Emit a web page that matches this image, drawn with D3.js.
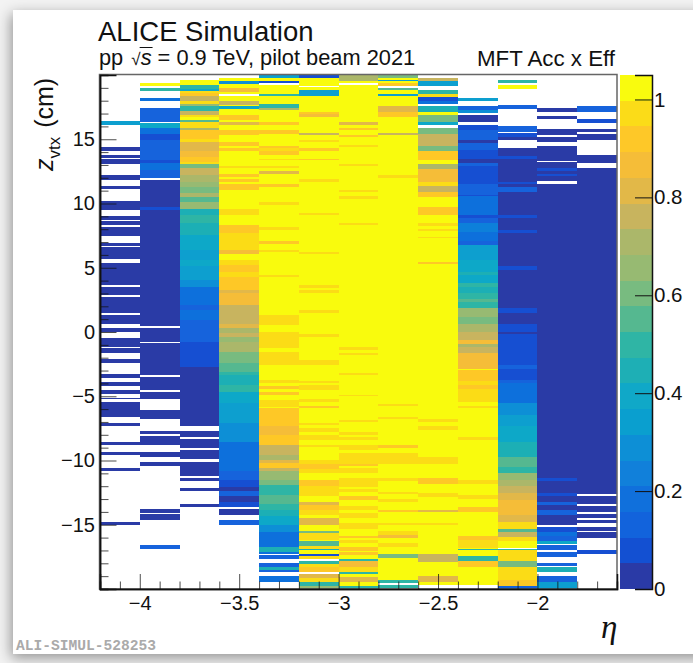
<!DOCTYPE html>
<html>
<head>
<meta charset="utf-8">
<script src="https://cdn.jsdelivr.net/npm/d3@7"></script>
<style>
  html, body { margin: 0; padding: 0; background: #f3f3f3; overflow: hidden; }
  svg { display: block; font-family: "Liberation Sans", Arial, sans-serif; }
</style>
</head>
<body>
<svg id="chart"></svg>
<script>
// each run is [zTop, zBottom, efficiency], later runs paint over earlier ones, E = empty bin
const E = null;
const col0 = [
  [16.4, 16.1, 0.34], [14.4, 14.1, 0.03], [13.8, 13.55, 0.03], [13.45, 13.1, 0.03], [12.2, 11.8, 0.03],
  [11.4, 11.1, 0.03], [10.2, 9.5, 0.03], [9, 8.7, 0.03], [8.6, 8.3, 0.03], [8.2, 7.5, 0.03],
  [6.95, 6.7, 0.03], [6.6, 5.7, 0.03], [5.35, 3.65, 0.03], [3.5, 2.9, 0.03], [2.75, 1.5, 0.03],
  [1.35, 0.65, 0.03], [0.35, 0, 0.03], [-0.45, -1.15, 0.03], [-1.25, -1.6, 0.03], [-2.1, -2.4, 0.03],
  [-3.25, -3.6, 0.03], [-3.9, -4.2, 0.03], [-4.5, -4.85, 0.03], [-5.1, -5.25, 0.03], [-5.45, -6.6, 0.03],
  [-7.1, -7.35, 0.03], [-8.55, -8.8, 0.03], [-9.3, -9.6, 0.03], [-10.55, -10.8, 0.03], [-14.75, -15.05, 0.03]
];
const col1 = [
  [19.4, 19.15, 1.02], [19, 18.75, 0.5], [18.2, 17.95, 0.18], [17.4, 16.35, 0.13], [16.25, 15.85, 0.39],
  [15.85, 15.4, 0.18], [15.4, 14.95, 0.08], [14.95, 13.4, 0.13], [13.4, 13.15, 0.08], [13.15, 12.6, 0.18],
  [12.6, 11.95, 0.13], [11.8, -9.7, 0.03], [9.7, 9.5, 0.08], [0.45, 0.35, E], [-0.75, -0.85, E], [-3.35, -3.5, E],
  [-4.55, -4.7, E], [-5.2, -6.05, E], [-6.8, -7.7, E], [-7.95, -8.1, E], [-8.8, -9.3, E],
  [-10.15, -10.4, 0.03], [-13.75, -14.05, 0.03], [-14.15, -14.65, 0.03], [-16.6, -16.85, 0.13]
];
const col2 = [
  [19.6, 19.2, 1.02], [19.2, 18.9, 0.5], [18.9, 18.75, 0.39], [18.75, 18.6, 0.97], [18.6, 18.35, 0.92],
  [18.35, 17.95, 0.76], [17.95, 17.75, 0.97], [17.75, 17.55, 0.66], [17.55, 17.2, 0.5], [17.2, 16.9, 0.76],
  [16.9, 16.7, 0.97], [16.7, 16.5, 1.02], [16.5, 16.35, 0.55], [16.35, 15.9, 0.97], [15.9, 15.7, 0.71],
  [15.7, 15.05, 0.92], [15.05, 14.75, 0.97], [14.75, 14.05, 0.81], [14.05, 13.65, 0.87], [13.65, 13.25, 0.92],
  [13.25, 13.05, 0.97], [13.05, 12.75, 0.6], [12.75, 12.2, 0.76], [12.2, 11.7, 0.71], [11.7, 11.3, 0.66],
  [11.3, 10.8, 0.6], [10.8, 10.5, 0.71], [10.5, 10.15, 0.55], [10.15, 9.55, 0.66], [9.55, 9.1, 0.45],
  [9.1, 8.45, 0.5], [8.45, 7.55, 0.45], [7.55, 6.4, 0.39], [6.4, 5.6, 0.34], [5.6, 5.1, 0.39],
  [5.1, 4.05, 0.34], [4.05, 3.5, 0.29], [3.5, 2.1, 0.18], [2.1, 1.7, 0.13], [1.7, 0.95, 0.18],
  [0.95, -0.75, 0.13], [-0.75, -2.7, 0.08], [-2.7, -7.35, 0.03], [-7.7, -8.2, 0.03], [-8.35, -9, 0.03],
  [-9.15, -9.85, 0.03], [-10.1, -11.2, 0.03], [-11.35, -11.6, 0.03], [-12.15, -12.4, 0.03], [-13.35, -13.65, 0.03]
];
const col3 = [
  [19.8, 5.6, 1.02], [19.55, 19.3, 0.29], [18.95, 18.7, 0.87], [18.55, 18.4, E], [18, 17.65, 0.76],
  [17.55, 17.35, 0.39], [16.9, 16.5, 0.92], [16.35, 16.1, 0.81], [15.7, 15.35, 0.92], [14.75, 14.5, 0.92],
  [14.35, 14.1, 0.92], [12.9, 12.75, 0.97], [12.3, 12.1, 0.92], [11.9, 11.7, 0.92], [11.5, 11.05, 0.92],
  [9.55, 9.1, 0.97], [8.3, 7.7, 0.92], [7.7, 7.2, 0.97], [7.2, 6.4, 0.97], [6.35, 6.05, 0.87],
  [5.6, 5.2, 0.97], [5.2, 4.7, 0.92], [4.7, 4.3, 0.97], [4.3, 3.25, 0.92], [3.25, 3, 0.81], [3, 2.1, 0.87],
  [2.1, 0.65, 0.76], [0.65, 0.3, 0.81], [0.3, -0.1, 0.71], [-0.1, -0.4, 0.76], [-0.4, -0.75, 0.66],
  [-0.75, -1.55, 0.71], [-1.55, -2.45, 0.6], [-2.45, -3.1, 0.55], [-3.1, -3.35, 0.5], [-3.35, -4.15, 0.45],
  [-4.15, -4.65, 0.5], [-4.65, -5.55, 0.39], [-5.55, -7.1, 0.34], [-7.1, -8.55, 0.29], [-8.55, -10.85, 0.18],
  [-10.85, -11.5, 0.13], [-11.5, -12.05, 0.08], [-12.05, -12.4, 0.03], [-12.4, -12.8, 0.13], [-12.8, -13.2, 0.03],
  [-13.2, -13.6, 0.08], [-13.75, -14.25, 0.03], [-14.6, -15, 0.13]
];
const col4 = [
  [20, -8.8, 1.02], [20, 19.75, 0.34], [19.55, 19.35, 0.08], [19.35, 19.2, E], [18.55, 18.4, 0.5],
  [17.75, 17.4, 0.5], [17.4, 17.3, 0.71], [16.35, 16.1, 0.92], [15.7, 15.4, 0.92], [14.5, 14.35, 0.92],
  [14.35, 14.1, 0.97], [14.1, 13.75, 0.92], [13.5, 13.35, 0.97], [12.9, 12.75, 0.97], [12.5, 12.3, 0.81],
  [11.5, 11.3, 0.92], [10.15, 9.9, 0.97], [8.2, 7.9, 0.97], [7.05, 6.85, 0.92], [6.4, 6.2, 0.97],
  [4.45, 4.3, 0.97], [1.3, 0.55, 0.97], [0, -1.25, 0.97], [-1.55, -2.55, 0.97], [-3.75, -4, 0.97],
  [-4.2, -4.4, 0.92], [-4.65, -4.9, 0.92], [-5.3, -5.8, 0.97], [-5.95, -7.35, 0.92], [-7.35, -8, 0.87],
  [-8, -8.8, 0.92], [-8.8, -9.6, 0.76], [-9.6, -9.95, 0.71], [-9.95, -10.2, 0.81], [-10.2, -10.6, 0.92],
  [-10.6, -10.85, 0.76], [-10.85, -11.5, 0.66], [-11.5, -11.9, 0.6], [-11.9, -12.65, 0.5], [-12.65, -13.35, 0.55],
  [-13.35, -13.85, 0.5], [-13.85, -14.35, 0.45], [-14.35, -15, 0.39], [-15, -15.55, 0.29], [-15.55, -16.7, 0.18],
  [-16.7, -17.1, 0.45], [-17.1, -17.25, 0.18], [-17.35, -17.65, 0.13], [-18, -18.25, 0.13], [-18.25, -18.5, 0.47],
  [-18.5, -18.65, 0.13], [-18.95, -19.45, 0.18]
];
const col5 = [
  [20, -19.8, 1.02], [20, 19.8, 0.1], [19.15, 19.05, E], [18.8, 18.35, 0.36], [17.15, 16.95, 0.92],
  [16.95, 16.75, 0.87], [15.5, 15.35, 0.76], [14.95, 14.75, 0.97], [14.35, 14.1, 0.92], [13.5, 13.35, 0.92],
  [11.9, 11.7, 0.97], [9.25, 9.1, 0.97], [6.25, 6.05, 0.97], [3.65, 3.4, 0.97], [3.25, 3.05, 0.97],
  [1.7, 1.45, 0.97], [-0.15, -0.4, 0.97], [-2.2, -2.55, 0.97], [-3.8, -4, 0.97], [-4.15, -4.55, 0.97],
  [-5.25, -5.45, 0.97], [-5.75, -5.95, 0.92], [-7.05, -7.25, 0.97], [-7.5, -7.75, 0.97], [-8, -8.4, 0.97],
  [-8.8, -8.95, 0.97], [-9.95, -10.25, 0.97], [-10.25, -10.65, 0.92], [-10.65, -11, 0.97], [-11.5, -12, 0.92],
  [-12, -12.8, 0.95], [-13.2, -13.45, 0.81], [-13.45, -13.85, 0.92], [-13.85, -14.25, 0.97], [-14.5, -15, 0.81],
  [-15.45, -15.65, 0.6], [-15.65, -16.2, 0.97], [-16.25, -16.65, 0.55], [-16.65, -16.85, 0.97], [-16.85, -17, 0.45],
  [-17.25, -17.45, 0.08], [-17.45, -17.7, 0.97], [-17.7, -17.8, E], [-17.8, -18.05, 0.5], [-18.05, -18.3, 0.97],
  [-18.3, -18.65, 0.92], [-18.65, -18.8, E], [-18.8, -19.15, 0.81], [-19.15, -19.45, 0.97], [-19.45, -19.8, 0.5],
  [-19.8, -20, 0.66]
];
const col6 = [
  [20, -20, 1.02], [20, 19.55, 0.71], [19.4, 19.2, E], [16.35, 16.1, 0.81], [15.85, 15.7, 0.92], [15.35, 15.15, 0.92],
  [14.55, 14.4, 0.97], [13.1, 12.9, 0.97], [11.05, 10.9, 0.97], [10.55, 10.35, 0.97], [8.45, 8.3, 0.97],
  [-1.2, -1.4, 0.97], [-1.6, -1.8, 0.97], [-3.2, -3.35, 0.97], [-4.9, -5, 0.97], [-6.85, -7, 0.97],
  [-7.75, -8, 0.97], [-8.15, -8.4, 0.97], [-8.8, -9.2, 0.97], [-9.45, -10.25, 0.97], [-10.25, -10.45, 0.92],
  [-10.6, -11, 0.97], [-11.4, -11.8, 0.97], [-11.8, -12.1, 0.97], [-12.2, -12.45, 0.97], [-12.8, -13.1, 0.92],
  [-13.55, -13.85, 0.97], [-14.1, -14.5, 0.97], [-14.9, -15.3, 0.97], [-15.9, -16.05, 0.92], [-16.2, -16.45, 0.97],
  [-16.75, -17.05, 0.92], [-17.1, -17.35, 0.92], [-17.65, -17.8, 0.5], [-17.85, -18.25, 0.87], [-18.25, -18.65, 0.97],
  [-18.65, -18.85, 0.5], [-19.05, -19.45, 0.81], [-19.8, -20, 0.5]
];
const col7 = [
  [20, -19.3, 1.02], [20, 19.8, 0.6], [19.6, 19.5, 0.34], [19.35, 19.15, 0.92], [19.15, 19, E], [19, 18.8, 0.55],
  [18.55, 18.4, 0.34], [17.55, 17.15, 0.81], [17.15, 16.75, 0.92], [15.5, 15.35, 0.76], [12.2, 12, 0.97],
  [-5.6, -5.75, 0.97], [-6.65, -6.8, 0.97], [-8.8, -9, 0.92], [-9.45, -10.3, 0.97], [-11.4, -11.6, 0.97],
  [-12.45, -12.6, 0.97], [-13, -13.25, 0.97], [-13.85, -14, 0.92], [-14.9, -15.05, 0.97], [-15.45, -15.8, 0.97],
  [-15.8, -16, 0.87], [-16.45, -16.75, 0.97], [-17.3, -17.6, 0.6], [-19.3, -19.5, 0.5], [-19.5, -19.7, E],
  [-19.7, -19.9, 0.5], [-19.9, -20, E]
];
const col8 = [
  [19.8, 19.5, 0.76], [19.5, 19.15, 0.34], [18.85, 18.5, 0.5], [18.5, 18.3, 0.97], [18.3, 17.95, 0.08],
  [17.95, 17.75, 0.18], [17.6, 17.15, 0.45], [17.15, 16.9, 1.02], [16.9, 16.35, 0.58], [16.35, 16.1, 0.39],
  [15.9, 15.4, 0.6], [15.4, 14.45, 0.76], [14.45, 14.05, 0.6], [14.05, 13.4, 0.92], [13.4, 13.05, 1.02],
  [13.05, 12.65, 0.71], [12.65, 11.7, 0.87], [11.7, 11.35, 0.97], [11.35, 10.9, 0.76], [10.9, 10.5, 0.92],
  [10.5, 9.7, 1.02], [9.7, 9.1, 0.92], [9.1, -19.7, 1.02], [8.45, 8.25, 0.97], [8.05, 7.85, 0.97], [7.4, 7.3, 0.97],
  [5.45, 5.3, 0.92], [-6.8, -7, 0.97], [-7.35, -7.6, 0.97], [-9.7, -10.3, 0.97], [-11.4, -11.8, 0.92],
  [-12.55, -12.85, 0.97], [-13.85, -14, 0.81], [-14.9, -15.05, 0.97], [-17.3, -17.9, 0.76], [-18.95, -19.45, 0.81]
];
const col9 = [
  [18.2, 17.95, 0.34], [17.6, 17.3, 0.13], [17.3, 17.05, 0.29], [16.9, 16.35, 0.03], [16.1, 15.7, 0.08],
  [15.7, 14.95, 0.13], [14.95, 14.7, 0.03], [14.7, 14.15, 0.13], [14.15, 13.5, 0.08], [13.5, 13.15, 0.03],
  [13.15, 12.9, 0.13], [12.9, 11.55, 0.08], [11.55, 10.65, 0.13], [10.65, 10.55, 0.08], [10.55, 9.1, 0.18],
  [9.1, 8.9, 0.08], [8.9, 8.45, 0.13], [8.45, 7.8, 0.24], [7.8, 7.05, 0.18], [7.05, 6.8, 0.13], [6.8, 5.6, 0.34],
  [5.6, 4.7, 0.39], [4.7, 4.45, 0.45], [4.45, 3.8, 0.39], [3.8, 3.5, 0.5], [3.5, 3, 0.45], [3, 2.6, 0.5],
  [2.6, 2.35, 0.55], [2.35, 1.85, 0.52], [1.85, 1.2, 0.66], [1.2, 0.65, 0.6], [0.65, 0, 0.71], [0, -0.65, 0.76],
  [-0.65, -0.95, 0.87], [-0.95, -1.2, 0.71], [-1.2, -1.6, 0.76], [-1.6, -2.85, 0.87], [-2.85, -2.95, 1.02],
  [-2.95, -3.8, 0.92], [-3.8, -4.15, 0.97], [-4.15, -4.4, 0.92], [-4.4, -5.45, 0.97], [-5.45, -19.7, 1.02],
  [-5.75, -5.95, 0.97], [-8.15, -8.4, 0.97], [-11.5, -11.8, 0.97], [-12.7, -13, 0.97], [-13.6, -14, 0.92],
  [-15.9, -16.2, 0.92], [-16.2, -16.8, 0.97], [-16.85, -17, 0.5], [-17.45, -17.85, 0.5], [-17.85, -18.25, 0.92]
];
const col10 = [
  [19.6, 19.35, 0.5], [19.2, 18.9, 1.02], [17.65, 17.35, 0.13], [16.05, 15.6, 0.13], [15.5, 15.15, 0.1],
  [15.15, 14.95, 0.03], [14.35, -10, 0.03], [13.7, 13.5, 0.08], [11.7, 11.5, 0.08], [11.3, 10.9, 0.13],
  [9.1, 8.9, 0.08], [7.9, 7.7, 0.08], [5.1, 4.85, 0.08], [1.85, 1.45, 0.08], [0.6, 0, 0.09], [-0.15, -2.55, 0.1],
  [-2.55, -2.85, 0.13], [-2.85, -3.35, 0.1], [-3.35, -3.75, 0.08], [-3.75, -4, 0.13], [-4, -5.55, 0.18],
  [-5.55, -6.45, 0.29], [-6.45, -7.35, 0.34], [-7.35, -8.55, 0.42], [-8.55, -9.7, 0.47], [-9.7, -10.5, 0.55],
  [-10.5, -11, 0.5], [-11, -11.5, 0.66], [-11.5, -12, 0.71], [-12, -12.55, 0.76], [-12.55, -13.05, 0.81],
  [-13.05, -14.25, 0.89], [-14.25, -14.75, 0.81], [-14.75, -15.3, 0.97], [-15.3, -15.55, 0.55], [-15.55, -15.95, 0.76],
  [-15.95, -16.25, 0.97], [-16.25, -16.8, 1.02], [-16.85, -17, 0.5], [-17, -17.2, 0.97], [-17.2, -17.85, 0.95],
  [-17.85, -18.25, 0.6], [-18.25, -19.3, 0.95], [-19.3, -19.8, 0.92], [-19.8, -20, 0.13]
];
const col11 = [
  [17.4, 17.15, 0.03], [16.8, 16.55, 0.03], [15.8, 15.35, 0.03], [15.2, 14.75, 0.03], [14.45, 14.1, 0.03],
  [14.05, 13.3, 0.03], [13.2, 11.75, 0.03], [12.75, 12.55, 0.08], [12.3, 12.15, 0.08], [11.55, -15, 0.03],
  [-11.4, -11.6, 0.08], [-12.55, -12.8, 0.08], [-13.2, -13.45, 0.13], [-13.85, -14.25, 0.13], [-15.15, -15.55, 0.1],
  [-15.55, -15.9, 0.18], [-15.9, -16.3, 0.13], [-16.3, -16.5, 0.39], [-16.55, -17, 0.13], [-17.1, -17.5, 0.13],
  [-18, -18.2, 0.13], [-18.3, -18.65, 0.47], [-18.95, -19.45, 0.13], [-19.45, -20, 0.34]
];
const col12 = [
  [17.6, 17.15, 0.13], [16.6, 16.3, 0.08], [15.8, 15.55, 0.03], [15.4, 14.95, 0.03], [13.8, 13.15, 0.03],
  [12.8, -16, 0.03], [-12.6, -12.75, E], [-13.4, -13.55, E], [-14, -14.15, E], [-14.45, -14.6, E],
  [-14.85, -15.15, E], [-15.45, -15.55, E], [-17, -17.25, 0.08]
];
const columns = [col0, col1, col2, col3, col4, col5, col6, col7, col8, col9, col10, col11, col12];
const etaEdges = [-4.2, -4, -3.8, -3.6, -3.4, -3.2, -3, -2.8, -2.6, -2.4, -2.2, -2, -1.8, -1.6];

// ROOT kBird bands, low to high
const palette = ["#2a3aa6", "#1350d2", "#1263dc", "#1070dc", "#1180da", "#0d8fd6", "#0a9fcf", "#10a8c8",
  "#1eafb5", "#2fb5a5", "#55b890", "#78bb80", "#97ba72", "#abb76a", "#c8b45e", "#e2b848", "#f5bd38",
  "#fec828", "#fbdc18", "#f9fb0e"];

const xMajor = [-4, -3.5, -3, -2.5, -2];
const xLabels = ["\u22124", "\u22123.5", "\u22123", "\u22122.5", "\u22122"];
const xMinor = [-4.1, -3.9, -3.8, -3.7, -3.6, -3.4, -3.3, -3.2, -3.1, -2.9, -2.8, -2.7, -2.6, -2.4, -2.3, -2.2, -2.1, -1.9, -1.8, -1.7];
const yMajor = [-15, -10, -5, 0, 5, 10, 15];
const yMinor = [-19, -18, -17, -16, -14, -13, -12, -11, -9, -8, -7, -6, -4, -3, -2, -1, 1, 2, 3, 4, 6, 7, 8, 9, 11, 12, 13, 14, 16, 17, 18, 19];
const zTicks = [0, 0.2, 0.4, 0.6, 0.8, 1];

const width = 693;
const height = 663;
const margin = { top: 75, right: 76, bottom: 74, left: 100 };

const svg = d3.select("#chart").attr("width", width).attr("height", height);

const xScale = d3.scaleLinear([-4.2, -1.6], [margin.left, width - margin.right]);
const yScale = d3.scaleLinear([-20, 20], [height - margin.bottom, margin.top]);
const zAxisScale = d3.scaleLinear([0, 1.05], [height - margin.bottom, margin.top]);
const color = d3.scaleQuantize([0, 1.05], palette);

const defs = svg.append("defs");
defs.append("filter").attr("id", "soft").attr("x", "-2%").attr("y", "-2%").attr("width", "104%").attr("height", "104%")
  .append("feGaussianBlur").attr("stdDeviation", 0.45);
const shadow = defs.append("filter").attr("id", "paper").attr("x", "-10%").attr("y", "-10%").attr("width", "120%").attr("height", "120%");
shadow.append("feDropShadow").attr("dx", -2).attr("dy", 4).attr("stdDeviation", 7).attr("flood-color", "#000").attr("flood-opacity", 0.4);

// the sheet the plot was screenshotted on
svg.append("rect").attr("x", 13).attr("y", 10).attr("width", width + 40).attr("height", 644)
  .attr("fill", "#fff").attr("filter", "url(#paper)");

// cells
const cells = columns.flatMap((runs, i) => runs.map((r) => ({
  x0: etaEdges[i], x1: etaEdges[i + 1], top: r[0], bottom: r[1], eff: r[2],
})));

svg.append("g").attr("filter", "url(#soft)").attr("shape-rendering", "crispEdges")
  .selectAll("rect").data(cells).join("rect")
  .attr("x", (d) => xScale(d.x0))
  .attr("width", (d) => xScale(d.x1) - xScale(d.x0))
  .attr("y", (d) => yScale(d.top))
  .attr("height", (d) => yScale(d.bottom) - yScale(d.top))
  .attr("fill", (d) => (d.eff === E ? "#fff" : color(d.eff)));

// frame
svg.append("rect")
  .attr("x", margin.left - 0.5).attr("y", margin.top - 0.5)
  .attr("width", xScale(-1.6) - margin.left + 0.5).attr("height", yScale(-20) - margin.top + 0.5)
  .attr("fill", "none").attr("stroke", "#666").attr("stroke-width", 1.5);

// axes
const bottom = svg.append("g").attr("transform", `translate(0,${height - margin.bottom})`);
bottom.append("g").call(d3.axisBottom(xScale).tickValues(xMinor).tickSize(-7.5).tickFormat(""));
bottom.append("g").call(
  d3.axisBottom(xScale).tickValues(xMajor).tickSize(-15).tickPadding(6.5)
    .tickFormat((d, i) => xLabels[i])
);
const left = svg.append("g").attr("transform", `translate(${margin.left},0)`);
left.append("g").call(d3.axisLeft(yScale).tickValues(yMinor).tickSize(-8.5).tickFormat(""));
left.append("g").call(
  d3.axisLeft(yScale).tickValues(yMajor).tickSize(-16.5).tickPadding(5)
    .tickFormat((d) => (d < 0 ? "\u2212" + -d : d))
);
svg.selectAll(".tick text").attr("font-size", 20).attr("font-family", "Liberation Sans").attr("fill", "#111");
svg.selectAll(".domain").attr("stroke", "#111").attr("stroke-width", 1.5);
svg.selectAll(".tick line").attr("stroke", "#111").attr("stroke-opacity", 0.75);

// colour bar
const barX = 620;
const barW = 32;
const zEdges = d3.range(palette.length).map((k) => color.invertExtent(palette[k]));
svg.append("g").attr("shape-rendering", "crispEdges").selectAll("rect").data(zEdges).join("rect")
  .attr("x", barX).attr("width", barW)
  .attr("y", (d) => zAxisScale(d[1]))
  .attr("height", (d) => zAxisScale(d[0]) - zAxisScale(d[1]))
  .attr("fill", (d) => color((d[0] + d[1]) / 2));
const zAxis = svg.append("g").attr("transform", `translate(${barX + barW},0)`)
  .call(d3.axisRight(zAxisScale).tickValues(zTicks).tickSize(-17).tickPadding(2).tickFormat((d) => d));
zAxis.selectAll("text").attr("font-size", 20.5).attr("font-family", "Liberation Sans").attr("fill", "#111");
zAxis.select(".domain").attr("stroke", "#111").attr("stroke-width", 1.5);
zAxis.selectAll(".tick line").attr("stroke", "#111");

// titles
svg.append("text").attr("x", 98).attr("y", 41).attr("font-size", 27.5).attr("fill", "#111").text("ALICE Simulation");
const sub = svg.append("text").attr("x", 99).attr("y", 65).attr("font-size", 21.8).attr("fill", "#111");
sub.append("tspan").text("pp ");
sub.append("tspan").attr("font-size", 17).attr("dx", 2).text("\u221A");
const sTspan = sub.append("tspan").attr("font-style", "italic").text("s");
sub.append("tspan").text(" = 0.9 TeV, pilot beam 2021");
// bar over the s, placed from the glyph itself
const sStart = sTspan.node().getStartPositionOfChar(0).x;
const sEnd = sTspan.node().getEndPositionOfChar(0).x;
svg.append("line").attr("x1", sStart - 1).attr("x2", sEnd + 1).attr("y1", 47.5).attr("y2", 47.5)
  .attr("stroke", "#111").attr("stroke-width", 1);
svg.append("text").attr("x", 615).attr("y", 66).attr("text-anchor", "end").attr("font-size", 22.3).attr("fill", "#111").text("MFT Acc x Eff");

// axis titles
const yTitle = svg.append("text").attr("transform", "translate(52.5,171) rotate(-90)").attr("font-size", 25).attr("fill", "#111");
yTitle.append("tspan").attr("font-style", "italic").text("z");
yTitle.append("tspan").attr("font-size", 17).attr("dy", 7).text("vtx");
yTitle.append("tspan").attr("dy", -7).attr("dx", 2).text(" (cm)");
svg.append("text").attr("x", 601).attr("y", 638).attr("font-size", 33).attr("font-style", "italic")
  .attr("font-family", "Liberation Serif").attr("fill", "#111").text("\u03B7");

svg.append("text").attr("x", 16).attr("y", 650).attr("font-size", 14.6).attr("font-weight", "bold")
  .attr("font-family", "Liberation Mono").attr("fill", "#aaa").text("ALI-SIMUL-528253");
</script>
</body>
</html>
